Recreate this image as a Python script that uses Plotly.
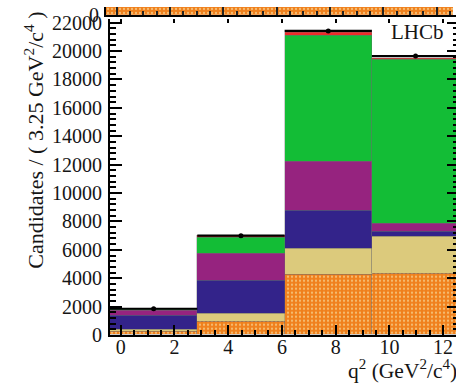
import plotly.graph_objects as go

# q^2 binning (GeV^2/c^4): four bins of width 3.25 starting at -0.4
bin_centers = [1.225, 4.475, 7.725, 10.975]
bin_width = 3.25

# stacked fit components per bin (candidates)
comp_orange = [220, 920, 4280, 4320]
comp_tan = [170, 580, 1810, 2580]
comp_blue = [990, 2340, 2670, 340]
comp_purple = [340, 1860, 3470, 620]
comp_green = [60, 1130, 8850, 11500]
comp_red = [40, 140, 230, 110]

# observed candidates per bin
data_counts = [1850, 7000, 21420, 19650]
data_errors = [43, 84, 146, 140]

# lower edge of the panel above (only its bottom slice is drawn)
upper_orange = [1200, 5200, 9800, 9600]

y_ticks = list(range(0, 22001, 2000))
y_tick_labels = [str(v) for v in y_ticks]

SERIF = "Liberation Serif"
ORANGE = "#f0801c"
DOTS = "#f5bd72"

fig = go.Figure()

components = [
    ("orange", comp_orange, ORANGE),
    ("tan", comp_tan, "#dcca7c"),
    ("blue", comp_blue, "#33238a"),
    ("purple", comp_purple, "#96237f"),
    ("green", comp_green, "#13bd36"),
    ("red", comp_red, "#ee2a2a"),
]

for name, vals, col in components:
    marker = dict(color=col, line=dict(width=0.6, color="rgba(110,110,110,0.55)"))
    if name == "orange":
        marker["pattern"] = dict(shape=".", fgcolor=DOTS, bgcolor=ORANGE,
                                 size=4, solidity=0.25, fillmode="replace")
    fig.add_trace(go.Bar(x=bin_centers, y=vals, width=[bin_width] * len(vals),
                         marker=marker, name=name, showlegend=False,
                         xaxis="x", yaxis="y"))

# data points with bin-width horizontal error bars
fig.add_trace(go.Scatter(
    x=bin_centers, y=data_counts, mode="markers",
    marker=dict(color="black", size=5),
    error_x=dict(type="constant", value=bin_width / 2, thickness=2.2, width=0, color="black"),
    error_y=dict(type="data", array=data_errors, thickness=2, width=0, color="black"),
    showlegend=False, xaxis="x", yaxis="y"))

# bottom slice of the panel above
fig.add_trace(go.Bar(
    x=bin_centers, y=upper_orange, width=[bin_width] * len(upper_orange),
    marker=dict(color=ORANGE, line=dict(width=0),
                pattern=dict(shape=".", fgcolor=DOTS, bgcolor=ORANGE,
                             size=4, solidity=0.25, fillmode="replace")),
    showlegend=False, xaxis="x2", yaxis="y2"))

# helper traces so the mirrored tick axes get drawn
fig.add_trace(go.Scatter(x=[None], y=[None], xaxis="x3", yaxis="y", showlegend=False, hoverinfo="skip"))
fig.add_trace(go.Scatter(x=[None], y=[None], xaxis="x", yaxis="y3", showlegend=False, hoverinfo="skip"))

tickfont = dict(family=SERIF, size=20, color="#151515")
x_range = [-0.4, 12.48]
y_range = [0, 22280]

fig.update_layout(
    width=456, height=386,
    margin=dict(l=106, r=0, t=0, b=51),
    paper_bgcolor="white", plot_bgcolor="white",
    barmode="stack", bargap=0,
    xaxis=dict(domain=[4 / 350, 1], range=x_range, anchor="y",
               tick0=0, dtick=2, ticks="inside", ticklen=10, tickwidth=2, tickcolor="black",
               minor=dict(dtick=0.5, tick0=0, ticks="inside", ticklen=5, tickwidth=2, tickcolor="black"),
               showline=True, linewidth=2, linecolor="black",
               showgrid=False, zeroline=False, tickfont=tickfont, ticklabelstandoff=-7),
    yaxis=dict(domain=[0, 323 / 335], range=y_range, anchor="x",
               tickvals=y_ticks, ticktext=y_tick_labels,
               ticks="inside", ticklen=12, tickwidth=2, tickcolor="black",
               minor=dict(dtick=400, tick0=0, ticks="inside", ticklen=6, tickwidth=2, tickcolor="black"),
               showline=True, linewidth=2, linecolor="black",
               showgrid=False, zeroline=False, tickfont=tickfont, ticklabelstandoff=2),
    xaxis3=dict(overlaying="x", side="top", anchor="y", range=x_range,
                tick0=0, dtick=2, ticks="inside", ticklen=4, tickwidth=2, tickcolor="black",
                showticklabels=False, showline=False, showgrid=False, zeroline=False),
    yaxis3=dict(overlaying="y", side="right", anchor="x", range=y_range,
                tickvals=y_ticks, ticks="inside", ticklen=9, tickwidth=2, tickcolor="black",
                minor=dict(dtick=400, tick0=0, ticks="inside", ticklen=3, tickwidth=2, tickcolor="black"),
                showticklabels=False, showline=False, showgrid=False, zeroline=False),
    xaxis2=dict(domain=[0, 1], range=[-0.4, 12.72], anchor="y2",
                tick0=0, dtick=2, ticks="inside", ticklen=8, tickwidth=2, tickcolor="#222",
                minor=dict(dtick=0.5, tick0=0, ticks="inside", ticklen=4, tickwidth=2, tickcolor="#222"),
                showticklabels=False, showline=True, linewidth=2, linecolor="black",
                showgrid=False, zeroline=False),
    yaxis2=dict(domain=[327 / 335, 1], range=[0, 600], anchor="x2",
                tickvals=[0], ticktext=["0"], ticks="", tickfont=tickfont, ticklabelstandoff=1,
                showline=True, linewidth=2, linecolor="black",
                showgrid=False, zeroline=False),
    annotations=[
        dict(text="Candidates / ( 3.25 GeV<sup>2</sup>/c<sup>4</sup> )",
             xref="paper", yref="paper", x=-0.206, y=0.197,
             xanchor="center", yanchor="bottom", textangle=-90, showarrow=False,
             font=dict(family=SERIF, size=22, color="#151515")),
        dict(text="q<sup>2</sup> (GeV<sup>2</sup>/c<sup>4</sup>)",
             xref="paper", yref="paper", x=0.6857, y=-0.105,
             xanchor="left", yanchor="middle", showarrow=False,
             font=dict(family=SERIF, size=21.5, color="#151515")),
        dict(text="LHCb", xref="paper", yref="paper", x=0.891, y=0.925,
             xanchor="center", yanchor="middle", showarrow=False,
             font=dict(family=SERIF, size=21, color="#151515")),
    ],
)

fig.write_html("out.html")
